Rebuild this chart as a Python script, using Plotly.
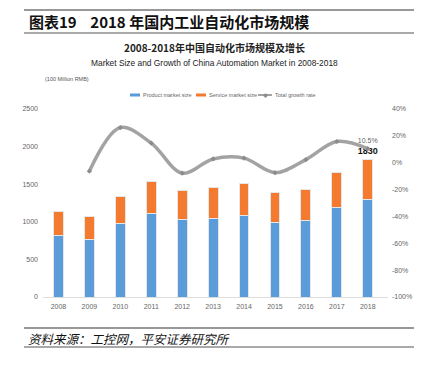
import plotly.graph_objects as go

years = ["2008", "2009", "2010", "2011", "2012", "2013", "2014", "2015", "2016", "2017", "2018"]
product = [820, 767, 976, 1117, 1029, 1042, 1082, 997, 1016, 1189, 1299]
service = [316, 297, 367, 422, 390, 417, 426, 399, 412, 465, 531]
growth_years = years[1:]
growth = [-6.3, 26.2, 14.6, -7.8, 2.8, 3.4, -7.4, 2.3, 15.8, 10.5]
left_ticks = [0, 500, 1000, 1500, 2000, 2500]
right_ticks = [-100, -80, -60, -40, -20, 0, 20, 40]

total = [p + s for p, s in zip(product, service)]

W, H = 421, 366
ML, MR, MT, MB = 43, 33, 109, 69
PW, PH = W - ML - MR, H - MT - MB


def px(x):
    return (x - ML) / PW


def py(y):
    return (H - MB - y) / PH


BLUE = "#5A9BDA"
ORANGE = "#F37A2E"
GRAY = "#A3A3A3"
NARROW = "Liberation Sans Narrow, Arial Narrow, Liberation Sans, Arial, sans-serif"

fig = go.Figure()
fig.add_trace(go.Bar(x=years, y=product, name="Product market size", showlegend=False,
                     marker=dict(color=BLUE, line=dict(color="#E6E6E6", width=1))))
fig.add_trace(go.Bar(x=years, y=service, name="Service market size", showlegend=False,
                     marker=dict(color=ORANGE, line=dict(color="#E6E6E6", width=1)),
                     text=[""] * (len(years) - 1) + [f"<b>{total[-1]}</b>"],
                     textposition="outside", cliponaxis=False, constraintext="none",
                     textfont=dict(family=NARROW, size=9, color="#111111")))
fig.add_trace(go.Scatter(x=growth_years, y=growth, name="Total growth rate", yaxis="y2", showlegend=False,
                         mode="lines+markers+text",
                         line=dict(color=GRAY, width=3.5, shape="spline", smoothing=1.0),
                         marker=dict(color="#8C8C8C", size=4, symbol="diamond"),
                         text=[""] * (len(growth) - 1) + [f"{growth[-1]}%"],
                         textposition="top center",
                         textfont=dict(family=NARROW, size=7, color="#666666")))

tick_font = dict(family=NARROW, size=7, color="#666666")

fig.update_layout(
    width=W, height=H,
    margin=dict(l=ML, r=MR, t=MT, b=MB, autoexpand=False),
    paper_bgcolor="white", plot_bgcolor="white",
    barmode="stack", bargap=0.68,
    showlegend=False,
    xaxis=dict(type="category", showgrid=False, showline=True, linecolor="#DDDDDD", linewidth=1,
               ticks="", tickfont=tick_font, automargin=False, ticklabelstandoff=3),
    yaxis=dict(range=[0, 2500], tickvals=left_ticks, showgrid=False, zeroline=False,
               showline=False, tickfont=tick_font, ticks="", automargin=False, ticklabelstandoff=4),
    yaxis2=dict(range=[-100, 40], tickvals=right_ticks, ticktext=[f"{v}%" for v in right_ticks],
                overlaying="y", side="right", showgrid=False, zeroline=False, showline=False,
                tickfont=tick_font, ticks="", automargin=False, ticklabelstandoff=3),
    font=dict(family="Noto Sans CJK SC, sans-serif"),
)

# custom legend
leg_y = 95
fig.add_shape(type="rect", xref="paper", yref="paper", x0=px(130), x1=px(140),
              y0=py(leg_y + 1.5), y1=py(leg_y - 1.5), fillcolor=BLUE, line=dict(width=0))
fig.add_shape(type="rect", xref="paper", yref="paper", x0=px(196), x1=px(206),
              y0=py(leg_y + 1.5), y1=py(leg_y - 1.5), fillcolor=ORANGE, line=dict(width=0))
fig.add_shape(type="line", xref="paper", yref="paper", x0=px(258), x1=px(272),
              y0=py(leg_y), y1=py(leg_y), line=dict(color=GRAY, width=2))
fig.add_annotation(text="◆", xref="paper", yref="paper", x=px(265), y=py(leg_y), showarrow=False,
                   font=dict(size=5, color="#8C8C8C"), xanchor="center", yanchor="middle")
for lx, lt in [(141, "Product market size"), (207, "Service market size"), (273, "Total growth rate")]:
    fig.add_annotation(text=lt, xref="paper", yref="paper", x=px(lx), y=py(leg_y), xanchor="left",
                       yanchor="middle", showarrow=False, font=dict(family=NARROW, size=5.5, color="#666666"))

# header text and rules
fig.add_annotation(text="<b>图表19&nbsp;&nbsp;&nbsp;&nbsp;2018 年国内工业自动化市场规模</b>", xref="paper", yref="paper",
                   x=px(27), xanchor="left", y=py(22), yanchor="middle",
                   showarrow=False, font=dict(family="Noto Sans CJK SC", size=15, color="#111111"))
fig.add_annotation(text="<b>2008-2018年中国自动化市场规模及增长</b>", xref="paper", yref="paper",
                   x=px(214), xanchor="center", y=py(48), yanchor="middle",
                   showarrow=False, font=dict(family="Noto Sans CJK SC", size=10, color="#222222"))
fig.add_annotation(text="Market Size and Growth of China Automation Market in 2008-2018", xref="paper", yref="paper",
                   x=px(214), xanchor="center", y=py(63), yanchor="middle",
                   showarrow=False, font=dict(family=NARROW, size=8.4, color="#222222"))
fig.add_annotation(text="(100 Million RMB)", xref="paper", yref="paper",
                   x=px(43), xanchor="left", y=py(79), yanchor="middle",
                   showarrow=False, font=dict(family=NARROW, size=5.5, color="#555555"))
fig.add_annotation(text="<i>资料来源：工控网，平安证券研究所</i>", xref="paper", yref="paper",
                   x=px(26), xanchor="left", y=py(338), yanchor="middle",
                   showarrow=False, font=dict(family="Noto Sans CJK SC", size=12.5, color="#111111"))

for yy, c in [(10, "#333333"), (33, "#555555"), (328, "#333333"), (347, "#555555")]:
    fig.add_shape(type="line", xref="paper", yref="paper",
                  x0=px(24), x1=px(414), y0=py(yy), y1=py(yy),
                  line=dict(color=c, width=1.2))

fig.write_html("out.html", config={"displayModeBar": False},
               post_script="document.body.style.margin='0';document.body.style.overflow='hidden';")
